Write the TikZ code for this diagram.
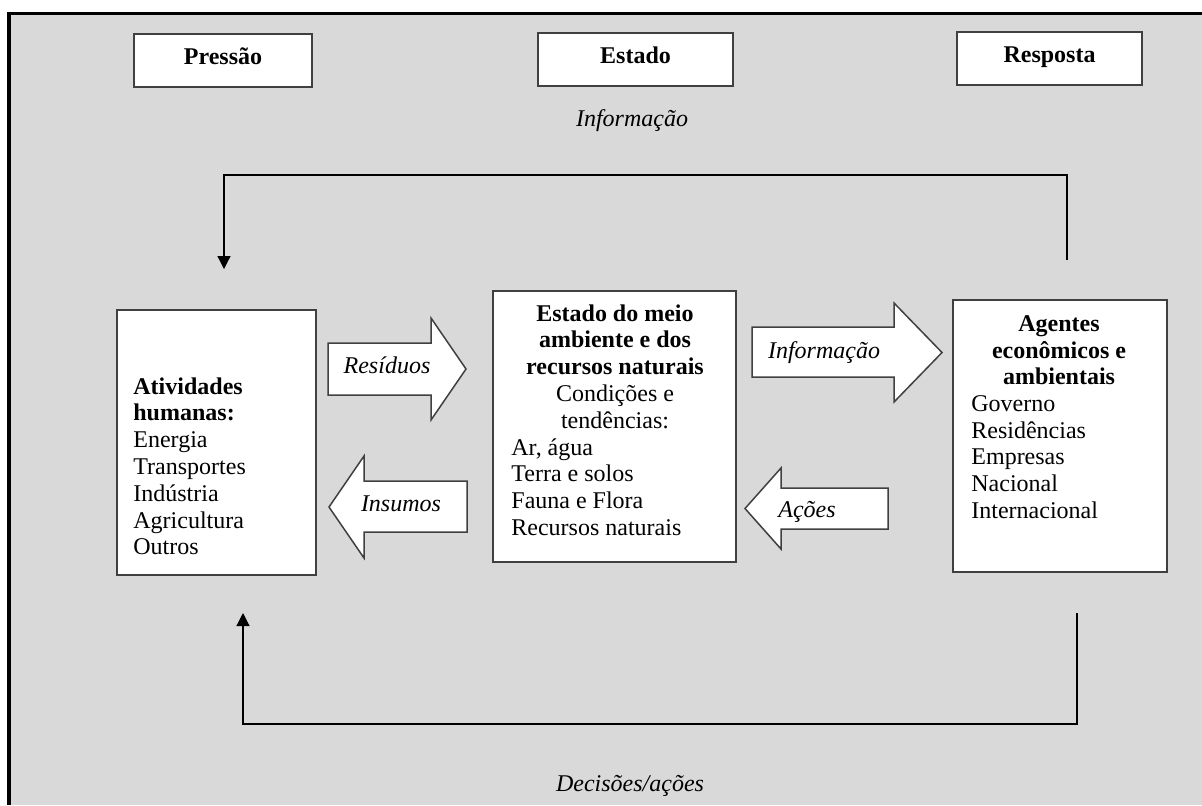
\documentclass[tikz,border=0pt]{standalone}
\usepackage{fontspec}
\setmainfont{Liberation Serif}
\usepackage{tikz}
\usetikzlibrary{arrows.meta}
\definecolor{bggray}{HTML}{D9D9D9}
\definecolor{edgegray}{HTML}{404040}

\begin{document}
\begin{tikzpicture}[x=0.5pt,y=-0.5pt,
  every node/.style={font=\fontsize{12pt}{13.4pt}\selectfont},
  box/.style={draw=edgegray,line width=0.75pt,fill=white,inner sep=0pt},
  topbox/.style={box,minimum height=26.5pt,text height=8pt,text depth=4.5pt,font=\fontsize{12pt}{13.4pt}\selectfont\bfseries},
  txt/.style={inner sep=0pt},
  lbl/.style={inner sep=0pt,anchor=base,font=\fontsize{12pt}{13.4pt}\selectfont\itshape},
  blk/.style={draw=edgegray,line width=0.75pt,fill=white,line join=miter},
  fb/.style={line width=0.6pt,-{Triangle[width=6.5pt,length=6.5pt]}}]
\useasboundingbox (0,0) rectangle (1202,805);
%frame
\fill[bggray] (9,13.5) rectangle (1202,805);
\draw[line width=1.75pt] (9,805)--(9,13.5)--(1202,13.5);
%top boxes
\node[topbox,minimum width=89pt] (pressao) at (223,60.5) {Pressão};
\node[topbox,minimum width=97.5pt] (estado) at (635.5,59.5) {Estado};
\node[topbox,minimum width=92.5pt] (resposta) at (1049.5,58.5) {Resposta};
\node[lbl] (infoTop) at (632,126.5) {Informação};
%main boxes
\node[box,minimum width=99.5pt,minimum height=132.5pt] (ativ) at (216.5,442.5) {};
\node[box,minimum width=121.5pt,minimum height=135.5pt] (meio) at (614.5,426.5) {};
\node[box,minimum width=107pt,minimum height=136pt] (agentes) at (1060,436) {};
\node[txt,anchor=north west,align=left] (ativTxt) at (133,377)
  {\textbf{Atividades}\\\textbf{humanas:}\\Energia\\Transportes\\Indústria\\Agricultura\\Outros};
\node[txt,anchor=north,align=center] (meioHdr) at (615,304)
  {\textbf{Estado do meio}\\\textbf{ambiente e dos}\\\textbf{recursos naturais}\\Condições e\\tendências:};
\node[txt,anchor=north west,align=left] (meioTxt) at (511,438)
  {Ar, água\\Terra e solos\\Fauna e Flora\\Recursos naturais};
\node[txt,anchor=north,align=center] (agentesHdr) at (1059,315)
  {\textbf{Agentes}\\\textbf{econômicos e}\\\textbf{ambientais}};
\node[txt,anchor=north west,align=left] (agentesTxt) at (971,395)
  {Governo\\Residências\\Empresas\\Nacional\\Internacional};
%block arrows
\draw[blk] (328,343)--(431,343)--(431,318)--(466,369)--(431,420)--(431,395)--(328,395)--cycle;
\node[lbl] (residuos) at (387,373.5) {Resíduos};
\draw[blk] (467,481)--(364,481)--(364,456)--(329,507)--(364,558)--(364,532)--(467,532)--cycle;
\node[lbl] (insumos) at (401,511.5) {Insumos};
\draw[blk] (752,327)--(894,327)--(894,303)--(942,352.5)--(894,402)--(894,377)--(752,377)--cycle;
\node[lbl] (infoMid) at (824,358.5) {Informação};
\draw[blk] (888,488)--(781,488)--(781,468)--(745,508.5)--(781,549)--(781,529)--(888,529)--cycle;
\node[lbl] (acoes) at (807,517) {Ações};
%feedback
\coordinate (fbTopStart) at (1067,260);
\coordinate (fbTopEnd) at (224,269);
\draw[fb] (fbTopStart)--++(0,-85)-|(fbTopEnd);
\coordinate (fbBotStart) at (1077,613);
\coordinate (fbBotEnd) at (243,613);
\draw[fb] (fbBotStart)--++(0,111)-|(fbBotEnd);
\node[lbl] (decisoes) at (630,791.5) {Decisões/ações};
\end{tikzpicture}
\end{document}
